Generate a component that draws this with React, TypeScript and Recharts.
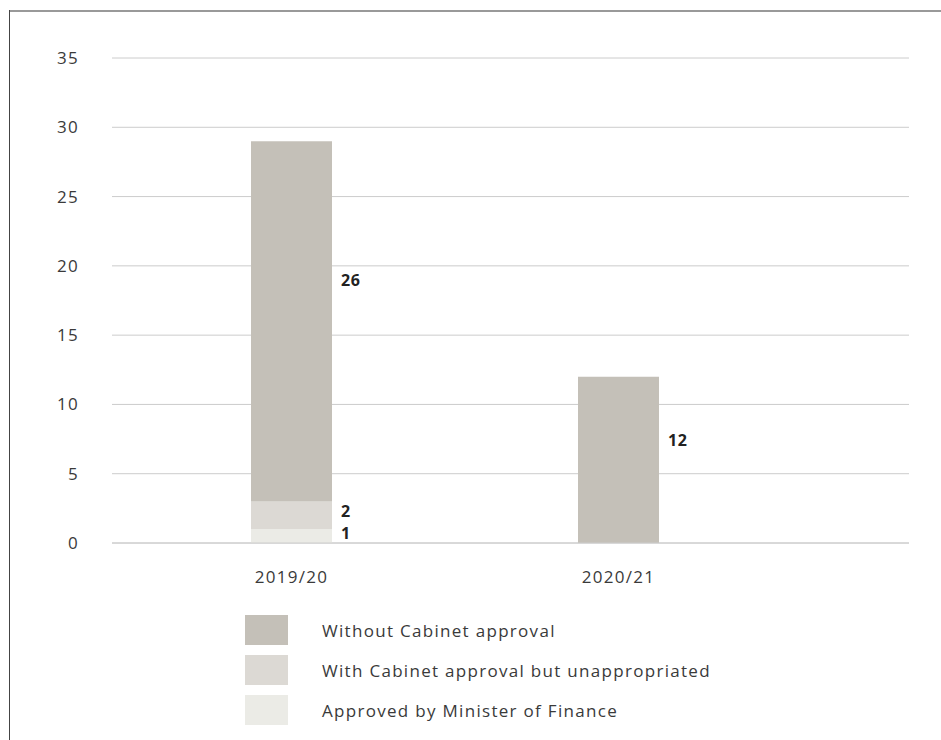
import React from 'react'
import { BarChart, Bar, XAxis, YAxis, CartesianGrid, LabelList } from 'recharts'

const years = ['2019/20', '2020/21']
const approvedByMinister = [1, 0]
const withCabinetUnappropriated = [2, 0]
const withoutCabinet = [26, 12]
const yTicks = [0, 5, 10, 15, 20, 25, 30, 35]

const SERIES = [
  { key: 'without', name: 'Without Cabinet approval', color: '#c4c0b8' },
  { key: 'withCab', name: 'With Cabinet approval but unappropriated', color: '#dcd9d4' },
  { key: 'approved', name: 'Approved by Minister of Finance', color: '#ebebe6' },
]

const FONT = '"Open Sans", "Noto Sans", sans-serif'
const TICK = { fontSize: 17, fill: '#3a3a3a', fontFamily: FONT, letterSpacing: 1.3 }

const data = years.map((y, i) => ({
  year: y,
  approved: approvedByMinister[i] || null,
  withCab: withCabinetUnappropriated[i] || null,
  without: withoutCabinet[i] || null,
}))

// value label sits just right of the segment, a bit above its middle
const SideLabel = (props: any) => {
  const { x, y, width, height, value } = props
  if (!value) return null
  return (
    <text
      x={Number(x) + Number(width) + 9}
      y={Number(y) + Number(height) * 0.39}
      dominantBaseline="middle"
      fontSize={16}
      fontWeight={700}
      fill="#222"
      fontFamily={FONT}
      letterSpacing={0.5}
    >
      {value}
    </text>
  )
}

export default function App() {
  return (
    <div style={{ position: 'absolute', left: 0, top: 0, width: 941, height: 740, background: '#fff' }}>
      <div style={{ position: 'absolute', left: 9, top: 10, width: 932, height: 2, background: '#999' }} />
      <div style={{ position: 'absolute', left: 9, top: 10, width: 1, height: 730, background: '#444' }} />
      <div style={{ position: 'absolute', left: 0, top: 0 }}>
        <BarChart
          width={941}
          height={740}
          data={data}
          margin={{ top: 58, right: 32, left: 0, bottom: 167 }}
        >
          <CartesianGrid vertical={false} stroke="#cccccc" />
          <XAxis
            dataKey="year"
            axisLine={{ stroke: '#cccccc' }}
            tickLine={false}
            tickSize={0}
            tickMargin={28}
            height={30}
            padding={{ left: 16, right: 127 }}
            tick={TICK}
          />
          <YAxis
            width={112}
            domain={[0, 35]}
            ticks={yTicks}
            axisLine={false}
            tickLine={false}
            tickSize={0}
            tickMargin={33}
            tick={TICK}
          />
          <Bar dataKey="approved" stackId="a" fill="#ebebe6" barSize={81} isAnimationActive={false}>
            <LabelList dataKey="approved" content={<SideLabel />} />
          </Bar>
          <Bar dataKey="withCab" stackId="a" fill="#dcd9d4" barSize={81} isAnimationActive={false}>
            <LabelList dataKey="withCab" content={<SideLabel />} />
          </Bar>
          <Bar dataKey="without" stackId="a" fill="#c4c0b8" barSize={81} isAnimationActive={false}>
            <LabelList dataKey="without" content={<SideLabel />} />
          </Bar>
        </BarChart>
      </div>
      {/* legend, drawn outside the svg so it does not shrink the plot */}
      <div style={{ position: 'absolute', left: 245, top: 615, fontFamily: FONT, fontSize: 17, letterSpacing: 1.3, color: '#3a3a3a' }}>
        {SERIES.map(s => (
          <div key={s.key} style={{ display: 'flex', alignItems: 'center', height: 30, marginBottom: 10 }}>
            <div style={{ width: 43, height: 30, background: s.color }} />
            <span style={{ marginLeft: 34 }}>{s.name}</span>
          </div>
        ))}
      </div>
    </div>
  )
}
